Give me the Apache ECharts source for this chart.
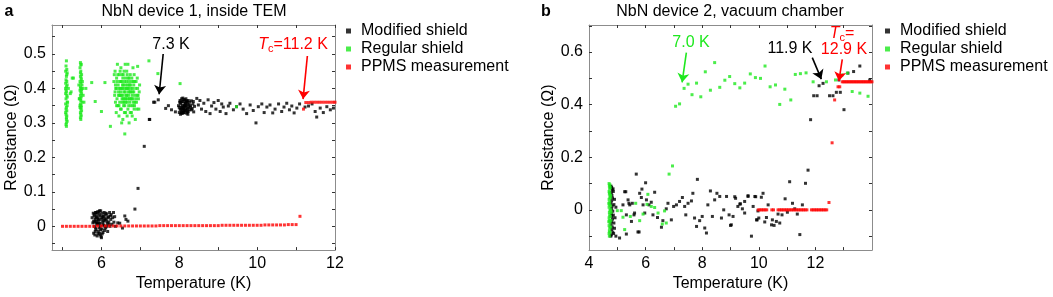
<!DOCTYPE html>
<html>
<head>
<meta charset="utf-8">
<script src="https://cdn.jsdelivr.net/npm/echarts/dist/echarts.min.js"></script>
<style>html,body{margin:0;padding:0;background:#fff}#chart{width:1053px;height:297px}</style>
</head>
<body>
<div id="chart"></div>
<script>
// panel a: NbN device 1, inside TEM
const modified1 = [
  [5.78,0.01],[5.80,-0.02],[5.81,0.03],[5.82,0.0],[5.83,-0.025],[5.84,0.02],[5.85,0.04],[5.86,-0.01],[5.87,0.015],[5.88,0.035],
  [5.89,-0.028],[5.90,0.005],[5.91,0.025],[5.92,-0.015],[5.93,0.042],[5.94,0.01],[5.95,-0.02],[5.96,0.03],[5.97,0.0],[5.98,0.045],
  [5.99,-0.03],[6.00,0.02],[6.01,-0.008],[6.02,0.038],[6.03,0.012],[6.04,-0.018],[6.05,0.028],[6.06,0.003],[6.07,0.04],[6.08,-0.012],
  [6.09,0.018],[6.10,0.032],[6.11,-0.005],[6.12,0.022],[6.14,0.036],[6.15,0.008],[6.16,-0.015],[6.18,0.028],[6.19,0.012],[6.21,0.04],
  [6.22,0.0],[6.24,0.02],[6.25,0.034],[6.27,0.006],[6.29,0.025],[6.31,0.04],[6.32,0.012],[6.34,0.028],[6.36,0.0],[5.76,0.025],
  [5.79,0.038],[5.85,-0.005],[5.92,0.02],[5.97,-0.025],[6.03,0.03],[5.88,0.008],[5.95,0.035],[6.0,-0.033],[6.06,0.015],[6.13,0.0],
  [5.83,0.012],[5.90,0.042],[5.94,-0.005],[5.86,0.025],[6.02,-0.022],
  [5.80,0.015],[5.82,0.035],[5.84,-0.015],[5.87,0.028],[5.89,0.01],[5.91,-0.022],[5.93,0.018],[5.96,0.008],[5.98,-0.01],[6.01,0.025],
  [6.04,0.005],[6.07,0.022],[6.09,-0.002],[6.11,0.038],[6.14,0.015],[6.17,0.025],[6.20,0.005],[6.23,0.03],[5.86,0.04],[5.95,0.045],
  [6.42,0.01],[6.47,0.009],[6.54,-0.005],[6.60,0.03],[6.63,0.02],[6.68,0.015],[6.86,0.05],[6.94,0.11],[7.10,0.232],
  [7.23,0.31],[7.24,0.31],[7.34,0.36],[7.37,0.36],[7.46,0.367],[7.65,0.342],[7.72,0.35],[7.80,0.338],[7.90,0.332],
  [7.98,0.35],[8.00,0.33],[8.01,0.36],[8.02,0.34],[8.03,0.325],[8.04,0.355],[8.05,0.345],[8.06,0.37],[8.07,0.335],[8.08,0.35],
  [8.09,0.328],[8.10,0.362],[8.11,0.34],[8.12,0.352],[8.13,0.33],[8.14,0.366],[8.15,0.345],[8.16,0.358],[8.17,0.336],[8.18,0.35],
  [8.19,0.328],[8.20,0.362],[8.21,0.342],[8.22,0.354],[8.23,0.333],[8.24,0.346],[8.26,0.36],[8.27,0.338],[8.29,0.35],[8.31,0.364],
  [8.33,0.342],[8.35,0.355],[8.37,0.332],[8.39,0.348],[8.06,0.328],[8.09,0.372],[8.13,0.348],[8.17,0.37],[8.00,0.345],[8.04,0.338],
  [8.11,0.33],[8.15,0.356],[8.20,0.34],[8.25,0.352],[8.02,0.365],[8.08,0.342],[8.12,0.336],[8.18,0.364],[8.22,0.325],
  [8.03,0.36],[8.05,0.33],[8.07,0.362],[8.10,0.345],[8.12,0.368],[8.14,0.338],[8.16,0.35],[8.19,0.36],[8.21,0.332],[8.23,0.365],
  [8.28,0.345],[8.32,0.338],[8.36,0.362],
  [8.45,0.371],[8.49,0.352],[8.53,0.365],[8.57,0.34],[8.63,0.357],[8.68,0.333],[8.74,0.367],[8.79,0.327],[8.83,0.349],[8.89,0.359],
  [8.94,0.34],[9.00,0.365],[9.05,0.333],[9.09,0.355],[9.13,0.346],[9.20,0.327],[9.26,0.349],[9.30,0.357],[9.39,0.338],[9.47,0.347],
  [9.56,0.355],[9.64,0.34],[9.73,0.327],[9.82,0.352],[9.90,0.336],[9.97,0.30],[10.03,0.347],[10.12,0.355],[10.18,0.33],[10.25,0.346],
  [10.33,0.352],[10.40,0.329],[10.46,0.34],[10.55,0.355],[10.63,0.333],[10.69,0.346],[10.76,0.357],[10.83,0.338],[10.89,0.349],[10.95,0.329],
  [11.02,0.343],[11.09,0.355],[11.23,0.346],[11.32,0.349],[11.41,0.355],[11.49,0.333],[11.53,0.317],[11.62,0.343],[11.70,0.33],[11.79,0.347],
  [11.88,0.338],[11.96,0.343]
];
const regular1 = [
  [5.10,0.48],[5.08,0.45],[5.11,0.44],[5.09,0.425],[5.12,0.41],[5.08,0.40],[5.10,0.39],[5.11,0.38],[5.09,0.37],[5.12,0.36],
  [5.08,0.355],[5.10,0.345],[5.11,0.335],[5.09,0.325],[5.10,0.315],[5.12,0.305],[5.09,0.295],[5.10,0.29],[5.11,0.42],[5.09,0.395],
  [5.12,0.375],[5.08,0.33],[5.10,0.435],[5.15,0.40],[5.20,0.385],[5.25,0.43],[5.28,0.43],[5.22,0.39],[5.13,0.36],[5.10,0.31],
  [5.09,0.465],[5.11,0.455],[5.10,0.405],[5.08,0.385],[5.12,0.35],[5.09,0.34],[5.11,0.32],[5.10,0.30],[5.08,0.415],[5.12,0.445],
  [5.46,0.475],[5.48,0.47],[5.45,0.46],[5.47,0.45],[5.49,0.44],[5.46,0.435],[5.48,0.43],[5.45,0.42],[5.47,0.415],[5.50,0.41],
  [5.46,0.405],[5.48,0.40],[5.45,0.395],[5.47,0.39],[5.49,0.385],[5.46,0.38],[5.48,0.375],[5.44,0.37],[5.47,0.365],[5.50,0.36],
  [5.46,0.355],[5.48,0.35],[5.45,0.345],[5.47,0.34],[5.49,0.335],[5.46,0.33],[5.48,0.32],[5.47,0.31],[5.52,0.40],[5.53,0.38],
  [5.42,0.41],[5.43,0.37],[5.51,0.42],[5.55,0.36],[5.60,0.40],
  [5.47,0.468],[5.46,0.445],[5.48,0.425],[5.47,0.40],[5.46,0.37],[5.48,0.345],[5.47,0.325],[5.46,0.315],[5.49,0.395],[5.45,0.35],
  [5.75,0.417],[5.84,0.362],[6.00,0.333],[6.09,0.417],[7.22,0.48],[7.45,0.443],[8.02,0.414],[9.47,0.347],[6.23,0.29],[6.60,0.268],
  [6.32,0.42],[6.34,0.38],[6.35,0.45],[6.36,0.36],[6.37,0.40],[6.38,0.33],[6.39,0.43],[6.40,0.37],[6.41,0.47],[6.42,0.35],
  [6.43,0.41],[6.44,0.39],[6.45,0.32],[6.46,0.44],[6.47,0.36],[6.48,0.40],[6.49,0.38],[6.50,0.46],[6.51,0.34],[6.52,0.42],
  [6.53,0.37],[6.54,0.40],[6.55,0.31],[6.56,0.44],[6.57,0.35],[6.58,0.39],[6.59,0.42],[6.60,0.37],[6.61,0.47],[6.62,0.33],
  [6.63,0.41],[6.64,0.38],[6.65,0.45],[6.66,0.36],[6.67,0.40],[6.68,0.34],[6.69,0.43],[6.70,0.38],[6.71,0.30],[6.72,0.41],
  [6.73,0.36],[6.74,0.44],[6.75,0.39],[6.76,0.35],[6.77,0.42],[6.78,0.37],[6.79,0.32],[6.80,0.40],[6.81,0.46],[6.82,0.36],
  [6.83,0.39],[6.84,0.34],[6.85,0.42],[6.86,0.38],[6.87,0.31],[6.88,0.40],[6.90,0.36],[6.92,0.43],[6.94,0.38],[6.96,0.34],
  [6.98,0.41],[6.35,0.39],[6.40,0.42],[6.45,0.35],[6.50,0.39],[6.55,0.43],[6.60,0.40],[6.65,0.38],[6.70,0.35],[6.75,0.41],
  [6.80,0.37],[6.85,0.35],[6.58,0.36],[6.62,0.43],[6.48,0.45],[6.52,0.30],[6.68,0.47],[6.73,0.39],[6.44,0.38],[6.77,0.33],
  [6.57,0.41],[6.63,0.37],[6.50,0.42],[6.70,0.40],[6.38,0.40],[6.82,0.42],[6.66,0.32],[6.92,0.38],[6.93,0.464],
  [6.33,0.44],[6.36,0.41],[6.39,0.35],[6.42,0.44],[6.45,0.40],[6.47,0.42],[6.49,0.34],[6.51,0.38],[6.53,0.44],[6.54,0.36],
  [6.56,0.38],[6.58,0.45],[6.59,0.33],[6.61,0.39],[6.62,0.36],[6.64,0.42],[6.66,0.44],[6.67,0.37],[6.69,0.39],[6.71,0.43],
  [6.72,0.37],[6.74,0.33],[6.76,0.40],[6.78,0.43],[6.79,0.38],[6.81,0.35],[6.83,0.41],[6.84,0.44],[6.86,0.36],[6.88,0.37],
  [6.89,0.42],[6.91,0.34],[6.93,0.40],[6.95,0.37],[6.97,0.39],[6.46,0.38],[6.54,0.41],[6.60,0.35],[6.70,0.42],[6.80,0.39],
  [6.64,0.40],[6.56,0.37],[6.52,0.40],[6.74,0.37],[6.68,0.41]
];
const ppms1 = [
  [5.0,0],[5.1,0],[5.2,0],[5.3,0],[5.4,0],[5.5,0],[5.6,0],[5.7,0],[5.8,0],[5.9,0.001],
  [6.0,0.001],[6.1,0.001],[6.2,0.001],[6.3,0.001],[6.4,0.001],[6.5,0.001],[6.6,0.001],[6.7,0.001],[6.8,0.001],[6.9,0.001],
  [7.0,0.001],[7.1,0.001],[7.2,0.001],[7.3,0.001],[7.4,0.001],[7.5,0.002],[7.6,0.002],[7.7,0.002],[7.8,0.002],[7.9,0.002],
  [8.0,0.002],[8.1,0.002],[8.2,0.002],[8.3,0.002],[8.4,0.002],[8.5,0.002],[8.6,0.002],[8.7,0.002],[8.8,0.002],[8.9,0.002],
  [9.0,0.002],[9.1,0.003],[9.2,0.003],[9.3,0.003],[9.4,0.003],[9.5,0.003],[9.6,0.003],[9.7,0.003],[9.8,0.003],[9.9,0.003],
  [10.0,0.003],[10.1,0.003],[10.2,0.004],[10.3,0.004],[10.4,0.004],[10.5,0.004],[10.6,0.004],[10.7,0.004],[10.8,0.005],[10.9,0.005],
  [11.0,0.005],[11.1,0.029],[11.19,0.34],[11.25,0.359],[11.32,0.359],[11.39,0.36],[11.46,0.36],[11.53,0.36],[11.6,0.36],[11.67,0.36],
  [11.74,0.36],[11.81,0.36],[11.88,0.36],[11.95,0.36],[12.0,0.36]
];

// panel b: NbN device 2, vacuum chamber
const modified2 = [
  [4.78,0.09],[4.80,0.085],[4.82,0.075],[4.79,0.065],[4.81,0.055],[4.83,0.045],[4.80,0.035],[4.78,0.025],[4.82,0.015],[4.80,0.005],
  [4.84,-0.005],[4.79,-0.015],[4.81,-0.025],[4.83,-0.035],[4.80,-0.045],[4.78,-0.055],[4.82,-0.065],[4.80,-0.075],[4.84,-0.085],[4.79,-0.095],
  [4.86,0.07],[4.88,0.02],[4.86,-0.02],[4.88,-0.05],[4.90,0.04],[4.92,-0.03],[4.95,0.01],[4.85,0.08],[4.87,-0.09],[4.90,-0.07],
  [4.76,0.088],[4.77,-0.1],[4.95,-0.1],[5.08,-0.107],
  [5.20,0.019],[5.32,-0.019],[5.41,0.025],[5.50,-0.044],[5.77,-0.084],[5.91,0.019],[5.97,-0.012],[5.85,0.047],[5.61,-0.012],[5.26,0.069],
  [5.67,0.136],[6.00,0.103],[5.87,0.079],[5.79,0.063],[5.30,0.069],[5.38,0.038],[5.44,0.019],[5.53,0.025],[5.32,-0.092],[5.73,-0.084],
  [5.59,-0.019],[6.03,0.038],[6.12,0.019],[6.20,0.029],[6.32,0.067],[6.26,-0.019],[6.42,-0.029],[6.56,-0.066],[6.61,-0.041],[6.73,0.004],
  [6.79,0.025],[6.91,-0.038],[6.99,0.013],[7.09,0.019],[7.20,0.032],[7.30,0.047],[7.38,0.013],[7.42,-0.019],[7.50,0.025],[7.62,0.034],
  [7.67,0.063],[7.73,-0.031],[7.83,0.116],[7.91,-0.041],[7.80,-0.063],[8.00,-0.025],[8.09,-0.069],[8.15,-0.088],[8.20,0.019],[8.29,0.072],
  [8.36,-0.025],[8.44,0.038],[8.52,0.063],[8.62,0.051],[8.68,-0.031],[8.76,0.0],[8.86,0.051],[8.95,-0.019],[9.00,-0.059],[9.09,-0.025],
  [9.18,0.044],[9.26,0.013],[9.35,0.023],[9.42,0.004],[9.50,-0.012],[9.62,0.051],[9.74,-0.1],[9.80,0.013],[9.92,-0.038],[9.86,0.051],
  [9.15,0.05],[9.03,-0.057],[9.33,0.022],[9.50,0.032],[9.62,0.054],[9.89,0.05],[10.09,0.048],[10.15,0.063],[9.97,-0.004],[9.94,-0.038],
  [10.00,-0.031],[10.21,-0.046],[10.27,-0.029],[10.33,0.019],[10.48,-0.038],[10.45,-0.057],[10.54,-0.059],[10.62,-0.044],[10.68,-0.016],[10.74,-0.05],
  [10.82,-0.019],[10.93,0.042],[11.01,-0.009],[11.09,0.107],[11.19,0.025],[11.27,0.004],[11.36,-0.016],[11.45,-0.094],[11.54,0.019],[11.65,0.101],
  [11.74,0.151],
  [11.83,0.343],[11.94,0.434],[12.06,0.434],[12.13,0.472],[12.27,0.481],[12.50,0.434],[12.62,0.434],[12.74,0.447],[12.88,0.447],[12.83,0.494],
  [13.01,0.381],[13.15,0.52],[13.35,0.526],[13.57,0.547],[13.92,0.494]
];
const regular2 = [
  [4.71,0.1],[4.72,0.09],[4.73,0.08],[4.71,0.07],[4.72,0.06],[4.74,0.05],[4.71,0.04],[4.73,0.03],[4.72,0.02],[4.71,0.01],
  [4.74,0.0],[4.72,-0.01],[4.73,-0.02],[4.71,-0.03],[4.72,-0.04],[4.74,-0.05],[4.71,-0.06],[4.73,-0.07],[4.72,-0.08],[4.71,-0.09],
  [4.72,-0.1],[4.75,0.085],[4.75,0.045],[4.76,0.015],[4.75,-0.025],[4.76,-0.065],[4.74,-0.085],[4.73,0.065],[4.70,-0.045],[4.70,0.025],
  [4.77,0.0],[4.78,-0.01],[4.74,0.095],[4.76,0.055],[4.77,-0.04],
  [5.00,-0.003],[5.14,-0.003],[5.26,-0.075],[5.20,-0.028],[5.46,-0.025],[5.65,0.025],[5.79,-0.041],[5.91,-0.016],[6.08,0.059],[6.05,0.021],
  [6.20,0.013],[6.32,0.009],[6.44,-0.012],[6.59,-0.054],[6.67,-0.004],[6.73,-0.05],[6.83,0.136],[6.95,0.167],
  [7.06,0.394],[7.20,0.403],[7.36,0.462],[7.50,0.478],[7.64,0.438],[7.80,0.482],[7.95,0.43],[8.11,0.525],[8.29,0.455],[8.44,0.56],
  [8.62,0.466],[8.80,0.493],[8.97,0.507],[9.15,0.48],[9.33,0.464],[9.50,0.482],[9.70,0.517],[9.88,0.503],[10.06,0.50],[10.22,0.547],
  [10.40,0.468],[10.59,0.475],[10.74,0.401],[10.92,0.459],[11.13,0.418],[11.29,0.515],[11.47,0.518],[11.67,0.521],[11.92,0.487],[12.39,0.487],
  [12.71,0.494],[12.94,0.513],[13.13,0.52],[13.30,0.45],[13.57,0.444],[13.86,0.432]
];
const ppms2 = [
  [9.98,0],[10.04,0],[10.10,0],[10.16,0],[10.22,0],[10.28,0],[10.46,0],[10.52,0],
  [10.68,0],[10.74,0],[10.80,0],[10.86,0],[10.92,0],[10.98,0],[11.04,0],[11.10,0],[11.16,0],[11.22,0],
  [11.28,0],[11.34,0],[11.40,0],[11.46,0],[11.52,0],[11.58,0],[11.64,0],[11.70,0],
  [11.86,0],[11.92,0],[11.98,0],[12.04,0],[12.10,0],[12.16,0],[12.22,0],[12.28,0],[12.34,0],[12.40,0],
  [12.48,0.028],[12.59,0.255],[12.68,0.418],[12.80,0.468],[12.86,0.468],
  [12.95,0.487],[13.0,0.487],[13.05,0.487],[13.1,0.487],[13.15,0.487],[13.2,0.487],[13.25,0.487],[13.3,0.487],[13.35,0.487],[13.4,0.487],
  [13.45,0.487],[13.5,0.487],[13.55,0.487],[13.6,0.487],[13.65,0.487],[13.7,0.487],[13.75,0.487],[13.8,0.487],[13.85,0.487],[13.9,0.487],
  [13.95,0.487],[14.0,0.487]
];

// tick positions and labels
const xTicksA = [5, 6, 7, 8, 9, 10, 11, 12];
const xLabelsA = [6, 8, 10, 12];
const yTicksA = [-0.05, 0, 0.05, 0.1, 0.15, 0.2, 0.25, 0.3, 0.35, 0.4, 0.45, 0.5, 0.55];
const yLabelsA = [0, 0.1, 0.2, 0.3, 0.4, 0.5];
const xTicksB = [5, 6, 7, 8, 9, 10, 11, 12, 13];
const xLabelsB = [4, 6, 8, 10, 12];
const yTicksB = [-0.1, 0, 0.1, 0.2, 0.3, 0.4, 0.5, 0.6, 0.7];
const yLabelsB = [0, 0.2, 0.4, 0.6];

const seriesNames = ['Modified shield', 'Regular shield', 'PPMS measurement'];
const seriesColors = ['#000000', '#1ee81e', '#ff0000'];

const FONT = '"Liberation Sans", Arial, sans-serif';
const axisGray = '#8c8c8c';

function xAxis(grid, min, max, ticks, labels, top) {
  return {
    type: 'value', gridIndex: grid, min: min, max: max,
    position: top ? 'top' : 'bottom',
    axisLine: { show: true, onZero: false, lineStyle: { color: axisGray, width: 1 } },
    axisTick: { show: true, inside: true, length: 3, customValues: ticks, lineStyle: { color: '#333' } },
    axisLabel: { show: !top, customValues: labels, formatter: v => String(v), color: '#000', fontSize: 16, fontFamily: FONT, margin: 5 },
    splitLine: { show: false },
    name: top ? '' : 'Temperature (K)', nameLocation: 'middle', nameGap: 21,
    nameTextStyle: { color: '#000', fontSize: 16, fontFamily: FONT }
  };
}
function yAxis(grid, min, max, ticks, labels, right) {
  return {
    type: 'value', gridIndex: grid, min: min, max: max,
    position: right ? 'right' : 'left',
    axisLine: { show: true, onZero: false, lineStyle: { color: axisGray, width: 1 } },
    axisTick: { show: true, inside: true, length: 3, customValues: ticks, lineStyle: { color: '#333' } },
    axisLabel: { show: !right, customValues: labels, formatter: v => String(v), color: '#000', fontSize: 16, fontFamily: FONT, margin: 6 },
    splitLine: { show: false },
    name: right ? '' : 'Resistance (\u03a9)', nameLocation: 'middle', nameGap: 28,
    nameTextStyle: { color: '#000', fontSize: 16, fontFamily: FONT }
  };
}

function scatter(i, data, grid) {
  return {
    name: seriesNames[i], type: 'scatter', xAxisIndex: grid * 2, yAxisIndex: grid * 2,
    data: data, symbol: 'rect', symbolSize: 3, itemStyle: { color: seriesColors[i] }, silent: true
  };
}
function arrows(grid, color, lines) {
  return {
    type: 'scatter', xAxisIndex: grid * 2, yAxisIndex: grid * 2, data: [], silent: true,
    markLine: {
      silent: true, symbol: ['none', 'arrow'], symbolSize: 9, animation: false,
      label: { show: false },
      lineStyle: { color: color, width: 1.6, type: 'solid' },
      data: lines.map(l => [{ coord: l[0] }, { coord: l[1] }])
    }
  };
}

function txt(x, y, text, color, extra) {
  return {
    type: 'text', x: x, y: y, silent: true,
    style: Object.assign({
      text: text, fill: color, font: '16px ' + FONT, align: 'center', verticalAlign: 'middle'
    }, extra || {})
  };
}
const tcRich = {
  i: { fontStyle: 'italic', fontSize: 16, fontFamily: FONT, fill: '#ff0000' },
  s: { fontSize: 11, fontFamily: FONT, fill: '#ff0000', verticalAlign: 'bottom', padding: [7, 0, 0, 0] },
  n: { fontSize: 16, fontFamily: FONT, fill: '#ff0000' }
};

const chart = echarts.init(document.getElementById('chart'));
const option = {
  animation: false,
  backgroundColor: '#fff',
  grid: [
    { left: 52, top: 25, width: 283, height: 227, show: false },
    { left: 589, top: 25, width: 283, height: 227, show: false }
  ],
  xAxis: [
    xAxis(0, 4.73, 12, xTicksA, xLabelsA, false), xAxis(0, 4.73, 12, xTicksA, xLabelsA, true),
    xAxis(1, 4, 14, xTicksB, xLabelsB, false), xAxis(1, 4, 14, xTicksB, xLabelsB, true)
  ],
  yAxis: [
    yAxis(0, -0.069, 0.584, yTicksA, yLabelsA, false), yAxis(0, -0.069, 0.584, yTicksA, yLabelsA, true),
    yAxis(1, -0.153, 0.703, yTicksB, yLabelsB, false), yAxis(1, -0.153, 0.703, yTicksB, yLabelsB, true)
  ],
  legend: [
    { orient: 'vertical', left: 346, top: 23, padding: 0, itemGap: 2, itemWidth: 5, itemHeight: 5, icon: 'rect',
      data: seriesNames, selectedMode: false,
      textStyle: { fontSize: 16, fontFamily: FONT, color: '#000', lineHeight: 16, padding: [0, 0, 0, 5] } },
    { orient: 'vertical', left: 885, top: 23, padding: 0, itemGap: 2, itemWidth: 5, itemHeight: 5, icon: 'rect',
      data: seriesNames, selectedMode: false,
      textStyle: { fontSize: 16, fontFamily: FONT, color: '#000', lineHeight: 16, padding: [0, 0, 0, 5] } }
  ],
  series: [
    scatter(0, modified1, 0), scatter(1, regular1, 0), scatter(2, ppms1, 0),
    scatter(0, modified2, 1), scatter(1, regular2, 1), scatter(2, ppms2, 1),
    arrows(0, '#000', [[[7.586, 0.50], [7.483, 0.383]]]),
    arrows(0, '#ff0000', [[[11.29, 0.494], [11.18, 0.369]]]),
    arrows(1, '#1ee81e', [[[7.44, 0.598], [7.29, 0.485]]]),
    arrows(1, '#000', [[[11.89, 0.579], [12.21, 0.497]]]),
    arrows(1, '#ff0000', [[[12.95, 0.572], [12.83, 0.49]]])
  ],
  graphic: [
    txt(9, 12, 'a', '#000', { font: 'bold 16px ' + FONT }),
    txt(194, 12, 'NbN device 1, inside TEM', '#000'),
    txt(546, 12, 'b', '#000', { font: 'bold 16px ' + FONT }),
    txt(730, 12, 'NbN device 2, vacuum chamber', '#000'),
    txt(171, 45, '7.3 K', '#000'),
    txt(293, 45, '{i|T}{s|c}{n|=11.2 K}', '#ff0000', { rich: tcRich }),
    txt(691, 43, '7.0 K', '#1ee81e'),
    txt(790, 49, '11.9 K', '#000'),
    txt(842, 34, '{i|T}{s|c}{n|=}', '#ff0000', { rich: tcRich }),
    txt(844, 50, '12.9 K', '#ff0000')
  ]
};
chart.setOption(option);
</script>
</body>
</html>
